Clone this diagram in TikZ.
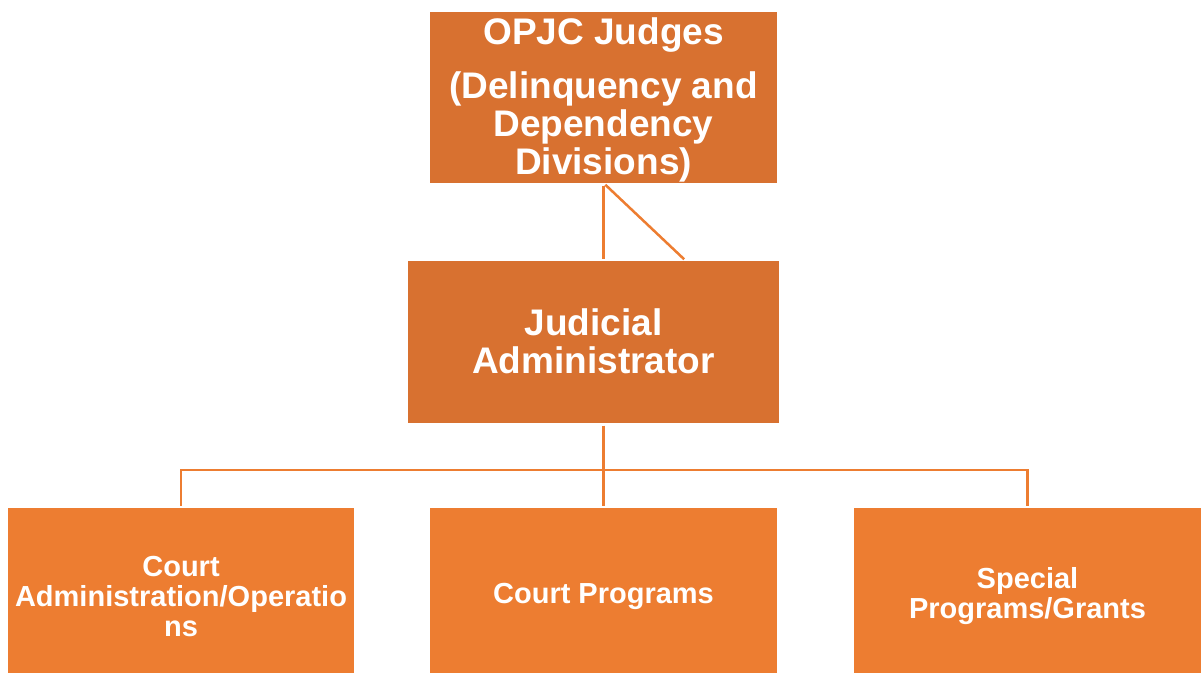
\documentclass[tikz,border=0pt]{standalone}
\usepackage{fontspec}
\setmainfont{Liberation Sans}
\definecolor{darkorange}{HTML}{D87130}
\definecolor{lightorange}{HTML}{ED7D31}

\begin{document}
\begin{tikzpicture}[x=1pt,y=-1pt,
  box/.style={fill=#1,inner sep=0pt,outer sep=0pt},
  bigtext/.style={text=white,align=center,font=\bfseries\fontsize{37}{38}\selectfont},
  smalltext/.style={text=white,align=center,font=\bfseries\fontsize{29}{30}\selectfont},
  link/.style={draw=lightorange,line width=2.5pt,shorten <=2.5pt,shorten >=2.5pt}]
  \useasboundingbox (0,0) rectangle (1201,673);
  % upper levels
  \node[box=darkorange,minimum width=347pt,minimum height=171pt] (judges) at (603.5,97.5) {};
  \node[bigtext] (judgesT) at ([yshift=-2pt]judges.center)
    {OPJC Judges\\[16pt](Delinquency and\\Dependency\\Divisions)};
  \node[box=darkorange,minimum width=371pt,minimum height=162pt] (admin) at (593.5,342) {};
  \node[bigtext] (adminT) at ([yshift=1pt]admin.center) {Judicial\\Administrator};
  % bottom row
  \node[box=lightorange,minimum width=346pt,minimum height=165pt] (courtadmin) at (181,590.5) {};
  \node[smalltext] (courtadminT) at ([yshift=-6pt]courtadmin.center)
    {Court\\Administration/Operatio\\ns};
  \node[box=lightorange,minimum width=347pt,minimum height=165pt] (programs) at (603.5,590.5) {};
  \node[smalltext] (programsT) at ([yshift=-6pt]programs.center) {Court Programs};
  \node[box=lightorange,minimum width=347pt,minimum height=165pt] (grants) at (1027.5,590.5) {};
  \node[smalltext] (grantsT) at ([yshift=-6pt]grants.center) {Special\\Programs/Grants};
  \draw[link] (judges.south) -- (judges.south |- admin.north);
  \draw[link] (judges.south) -- ([xshift=92.5pt]admin.north);
  \coordinate (bar) at (0,470);
  \draw[link] (programs.north |- admin.south) -- (programs.north);
  \draw[link] (courtadmin.north) -- (courtadmin.north |- bar) -- (grants.north |- bar) -- (grants.north);
\end{tikzpicture}
\end{document}
